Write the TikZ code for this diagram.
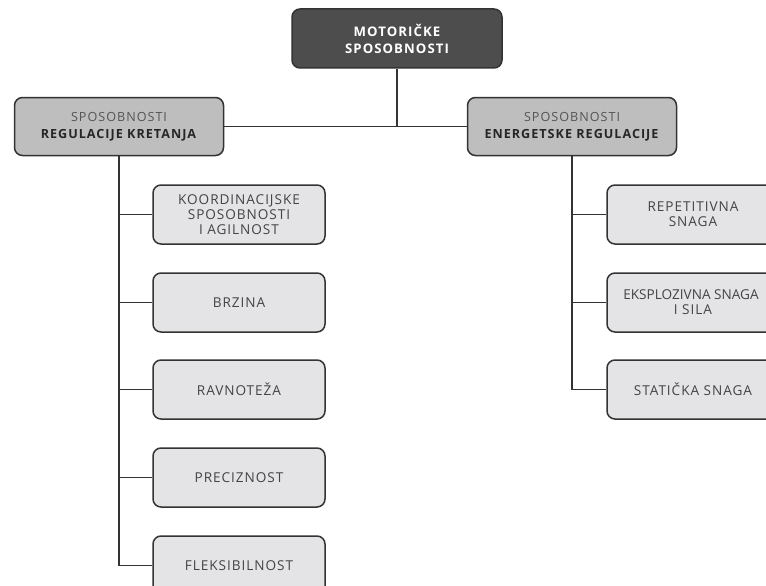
\documentclass[tikz,border=0pt]{standalone}
\usepackage{fontspec}
\setmainfont{Open Sans}
\newfontfamily\childfont[LetterSpace=7]{Open Sans}
\newfontfamily\tightfont[LetterSpace=0]{Open Sans}
\newfontfamily\mainfont[LetterSpace=8]{Open Sans}
\definecolor{topfill}{HTML}{4D4D4D}
\definecolor{midfill}{HTML}{BEBEBE}
\definecolor{childfill}{HTML}{E4E4E6}
\definecolor{edge}{HTML}{333333}
\definecolor{lighttext}{HTML}{555555}
\definecolor{childtext}{HTML}{444444}
\tikzset{
  box/.style={draw=edge, line width=1.5pt, rounded corners=8pt, align=center, inner sep=0pt},
  topbox/.style={box, fill=topfill, minimum width=210pt, minimum height=59pt, text=white,
     font=\mainfont\bfseries\fontsize{13.2}{17}\selectfont},
  midbox/.style={box, fill=midfill, minimum width=209pt, minimum height=58pt, text=black!85,
     font=\mainfont\fontsize{12.6}{17}\selectfont},
  childbox/.style={box, fill=childfill, minimum width=172pt, minimum height=59pt, text=childtext,
     font=\childfont\fontsize{13.6}{15}\selectfont},
  conn/.style={draw=edge, line width=1.6pt}
}
\begin{document}
\begin{tikzpicture}[x=1pt,y=-1pt]
\useasboundingbox (0,0) rectangle (766,586);
\clip (0,0) rectangle (766,586);
\node[topbox] (T) at (397,38.5) {MOTORIČKE\\SPOSOBNOSTI};
\node[midbox] (L) at (119,126.5) {{\color{lighttext}SPOSOBNOSTI}\\\textbf{REGULACIJE KRETANJA}};
\node[midbox] (R) at (572,126.5) {{\color{lighttext}SPOSOBNOSTI}\\\textbf{ENERGETSKE REGULACIJE}};
\node[childbox] (L1) at (239,214.5) {KOORDINACIJSKE\\SPOSOBNOSTI\\I AGILNOST};
\node[childbox] (L2) at (239,302.5) {BRZINA};
\node[childbox] (L3) at (239,389.5) {RAVNOTEŽA};
\node[childbox] (L4) at (239,477.5) {PRECIZNOST};
\node[childbox] (L5) at (239,565.5) {FLEKSIBILNOST};
\node[childbox] (R1) at (693,214.5) {REPETITIVNA\\SNAGA};
\node[childbox] (R2) at (693,302.5) {{\tightfont EKSPLOZIVNA SNAGA\hspace*{4pt}}\\I SILA};
\node[childbox] (R3) at (693,389.5) {STATIČKA SNAGA};
\draw[conn] (L.east) -- (R.west);
\draw[conn] (T.south) -- (T.south |- L.east);
\draw[conn] (L.south) -- (L.south |- L5.west);
\draw[conn] (R.south) -- (R.south |- R3.west);
\foreach \c in {L1,L2,L3,L4,L5} \draw[conn] (L.south |- \c.west) -- (\c.west);
\foreach \c in {R1,R2,R3} \draw[conn] (R.south |- \c.west) -- (\c.west);
\end{tikzpicture}
\end{document}
